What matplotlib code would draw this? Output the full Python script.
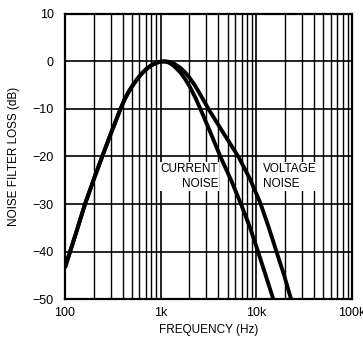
import matplotlib
matplotlib.use("Agg")
import matplotlib.pyplot as plt
from matplotlib.ticker import FixedLocator, NullFormatter

plt.rcParams['font.family'] = ['Liberation Sans', 'DejaVu Sans']

# shared low-frequency branch, then each curve's own roll-off (Hz, dB)
current_freq = [100, 113, 130, 162, 200, 245, 300, 380, 420, 460, 500, 560, 630, 700, 800, 900,
                1000, 1100, 1200, 1300, 1400, 1620, 1800, 2000, 2300, 2600, 3300, 4200, 5500,
                6900, 8600, 10400, 12500, 15000]
current_db = [-43.4, -40, -36.2, -30, -24.8, -20, -15.3, -10, -8.0, -6.5, -5.3, -3.9, -2.6, -1.7,
              -0.8, -0.3, -0.05, 0, -0.2, -0.6, -1.1, -2.4, -3.7, -5.2, -7.6, -10, -14.9, -20,
              -25.2, -30, -35, -40, -45, -50]

voltage_freq = [100, 113, 130, 162, 200, 245, 300, 380, 420, 460, 500, 560, 630, 700, 800, 900,
                1000, 1100, 1200, 1300, 1400, 1620, 1800, 2000, 2300, 2600, 3200, 4500, 6600,
                8600, 11000, 13500, 16200, 19500, 23000]
voltage_db = [-43.4, -40, -36.2, -30, -24.8, -20, -15.3, -10, -8.0, -6.5, -5.3, -3.9, -2.6, -1.7,
              -0.8, -0.3, -0.05, 0, -0.05, -0.25, -0.55, -1.4, -2.3, -3.4, -5.2, -7.0, -10.2,
              -15.0, -20.3, -24.8, -29.8, -35, -40, -45, -50]

x_ticks = [100, 1000, 10000, 100000]
x_tick_labels = ['100', '1k', '10k', '100k']
y_ticks = [10, 0, -10, -20, -30, -40, -50]
y_tick_labels = ['10', '0', '−10', '−20', '−30', '−40', '−50']

fig = plt.figure(figsize=(3.63, 3.38), dpi=100)
ax = fig.add_axes([0.179, 0.115, 0.791, 0.844])

ax.set_xscale('log')
ax.set_xlim(100, 100000)
ax.set_ylim(-50, 10)

# grid: 2..9 lines in every decade, decade lines, every 10 dB
minor = [m * 10 ** d for d in range(2, 5) for m in range(2, 10)]
for f in minor:
    ax.axvline(f, color='black', lw=1.0, zorder=1)
for f in x_ticks:
    ax.axvline(f, color='black', lw=1.2, zorder=1)
for y in y_ticks:
    ax.axhline(y, color='black', lw=1.2, zorder=1)

ax.plot(current_freq, current_db, color='black', lw=2.8, zorder=3, solid_capstyle='butt')
ax.plot(voltage_freq, voltage_db, color='black', lw=2.8, zorder=3, solid_capstyle='butt')

ax.text(4000, -21.4, 'CURRENT\nNOISE', ha='right', va='top', fontsize=8.5,
        multialignment='right', linespacing=1.35,
        bbox=dict(facecolor='white', edgecolor='none', pad=0.5), zorder=2)
ax.text(11700, -21.4, 'VOLTAGE\nNOISE', ha='left', va='top', fontsize=8.5,
        multialignment='left', linespacing=1.35,
        bbox=dict(facecolor='white', edgecolor='none', pad=0.5), zorder=2)

ax.xaxis.set_major_locator(FixedLocator(x_ticks))
ax.xaxis.set_minor_formatter(NullFormatter())
ax.set_xticks(x_ticks)
ax.set_xticklabels(x_tick_labels)
ax.set_yticks(y_ticks)
ax.set_yticklabels(y_tick_labels)
ax.tick_params(axis='x', which='both', length=0, labelsize=9, pad=6)
ax.tick_params(axis='y', which='both', length=0, labelsize=9, pad=8)

ax.set_xlabel('FREQUENCY (Hz)', fontsize=8.5, labelpad=3)
ax.set_ylabel('NOISE FILTER LOSS (dB)', fontsize=8.5, labelpad=9)

for s in ax.spines.values():
    s.set_linewidth(1.6)
    s.set_zorder(4)

fig.savefig('out.png', dpi=100)
